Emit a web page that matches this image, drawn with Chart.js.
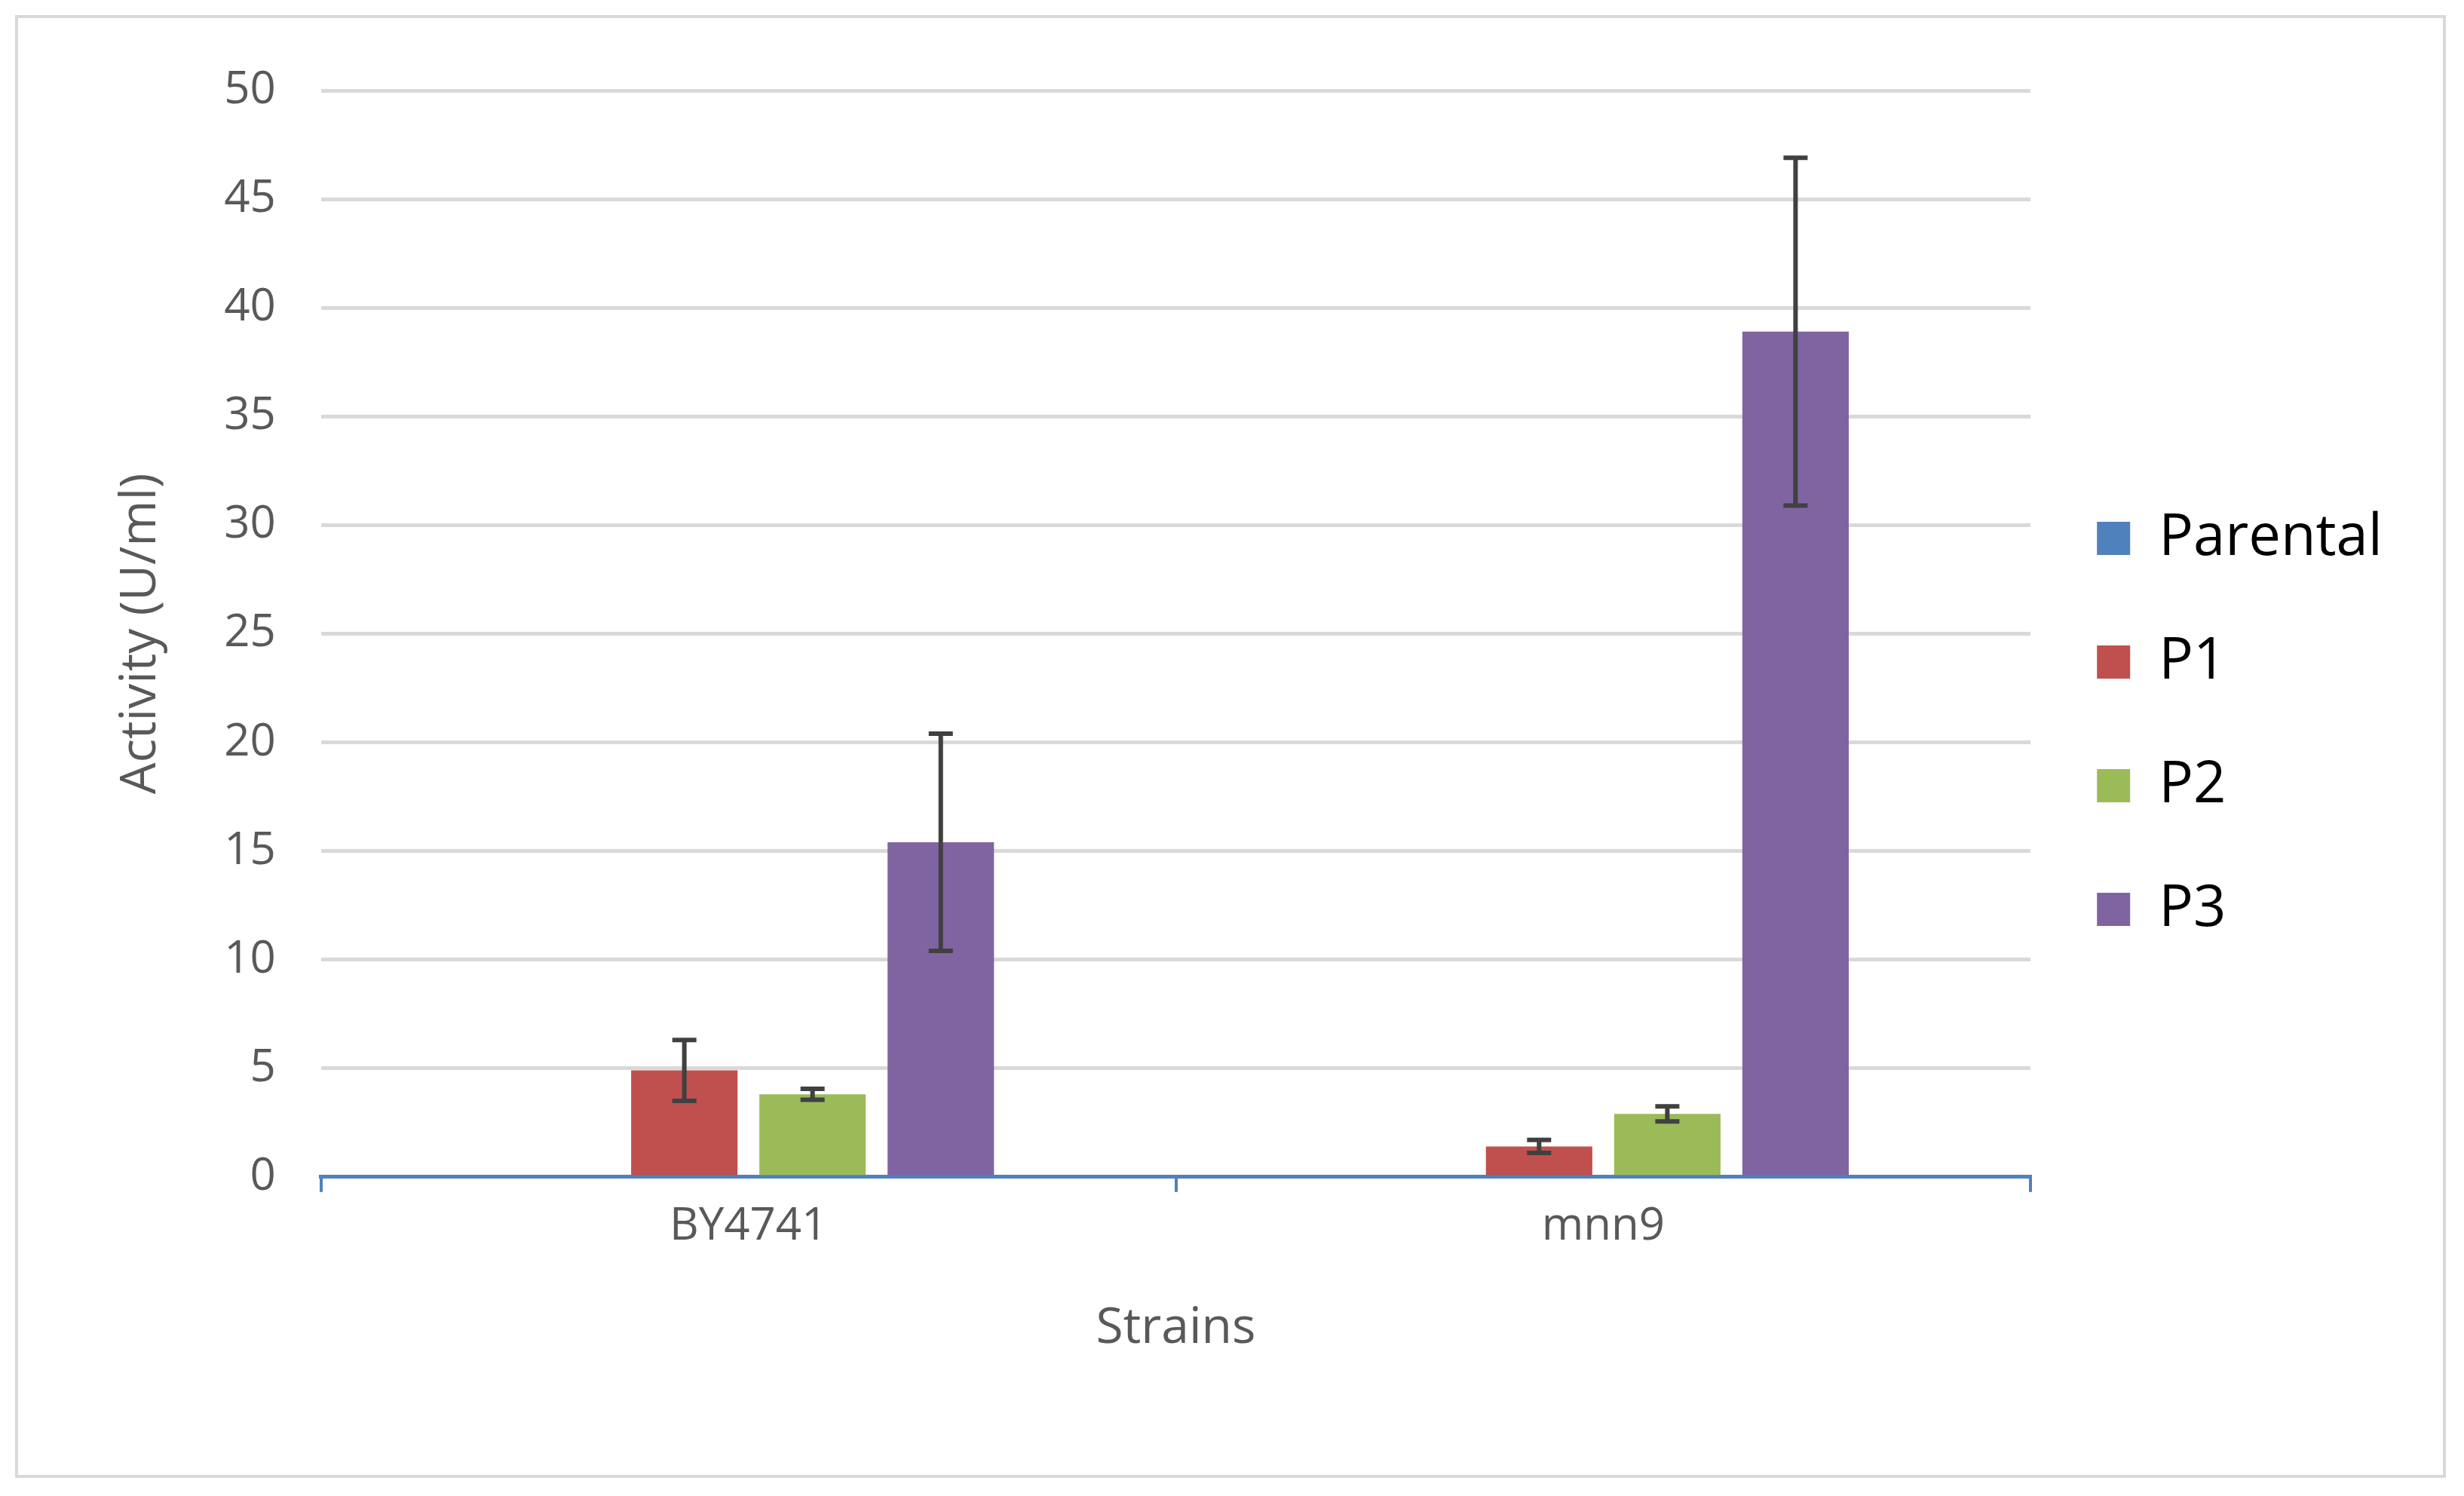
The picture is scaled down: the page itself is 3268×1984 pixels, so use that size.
<!DOCTYPE html>
<html>
<head>
<meta charset="utf-8">
<script src="https://cdn.jsdelivr.net/npm/chart.js@4"></script>
<style>
  html, body { margin: 0; padding: 0; background: #fff; }
  #wrap { position: absolute; left: 20px; top: 20px; width: 3224px; height: 1940px; border: 4px solid #d9d9d9; box-sizing: border-box; }
  canvas { display: block; }
</style>
</head>
<body>
<div id="wrap"><canvas id="chart"></canvas></div>
<script>
// strains and series
const strains = ['BY4741', 'mnn9'];
const seriesNames = ['Parental', 'P1', 'P2', 'P3'];
const seriesColors = ['#4f81bd', '#c0504d', '#9bbb59', '#8064a2'];
const parental = [0, 0];
const p1 = [4.9, 1.4];
const p2 = [3.8, 2.9];
const p3 = [15.4, 38.9];
const parentalErr = [0, 0];
const p1Err = [1.4, 0.3];
const p2Err = [0.25, 0.35];
const p3Err = [5.0, 8.0];

const values = [parental, p1, p2, p3];
const errors = [parentalErr, p1Err, p2Err, p3Err];

const font = "'Open Sans', 'Liberation Sans', sans-serif";

// draws the error bars from the bar elements and y scale
const errorBars = {
  id: 'errorBars',
  afterDatasetsDraw(chart) {
    const ctx = chart.ctx;
    const y = chart.scales.y;
    ctx.save();
    ctx.strokeStyle = '#404040';
    ctx.lineWidth = 6;
    chart.data.datasets.forEach((ds, i) => {
      const meta = chart.getDatasetMeta(i);
      meta.data.forEach((bar, j) => {
        const err = errors[i][j];
        if (!err) return;
        const top = y.getPixelForValue(ds.data[j] + err);
        const bot = y.getPixelForValue(ds.data[j] - err);
        const cap = 16;
        ctx.beginPath();
        ctx.moveTo(bar.x, top); ctx.lineTo(bar.x, bot);
        ctx.moveTo(bar.x - cap, top); ctx.lineTo(bar.x + cap, top);
        ctx.moveTo(bar.x - cap, bot); ctx.lineTo(bar.x + cap, bot);
        ctx.stroke();
      });
    });
    ctx.restore();
  }
};

new Chart(document.getElementById('chart'), {
  type: 'bar',
  data: {
    labels: strains,
    datasets: seriesNames.map((name, i) => ({
      label: name,
      data: values[i],
      backgroundColor: seriesColors[i],
      categoryPercentage: 0.6,
      barPercentage: 0.83
    }))
  },
  options: {
    responsive: true,
    maintainAspectRatio: false,
    animation: false,
    layout: { padding: { left: 120, right: 70, top: 90, bottom: 150 } },
    plugins: {
      legend: {
        position: 'right',
        labels: {
          font: { family: font, size: 76 },
          color: '#000',
          usePointStyle: true,
          pointStyle: 'rect',
          boxWidth: 44,
          boxHeight: 44,
          padding: 88
        }
      },
      tooltip: { enabled: false }
    },
    scales: {
      x: {
        grid: { display: true, drawOnChartArea: false, offset: true, color: '#4f81bd', lineWidth: 4, tickLength: 20 },
        border: { color: '#4f81bd', width: 5 },
        ticks: { font: { family: font, size: 60 }, color: '#595959', padding: 10 },
        title: { display: true, text: 'Strains', font: { family: font, size: 66 }, color: '#595959', padding: { top: 50 } }
      },
      y: {
        min: 0, max: 50,
        ticks: { stepSize: 5, font: { family: font, size: 60 }, color: '#595959', padding: 60 },
        grid: { color: '#d9d9d9', lineWidth: 5, drawTicks: false },
        border: { display: false },
        title: { display: true, text: 'Activity (U/ml)', font: { family: font, size: 66 }, color: '#595959', padding: { bottom: 10 } }
      }
    }
  },
  plugins: [errorBars]
});
</script>
</body>
</html>
